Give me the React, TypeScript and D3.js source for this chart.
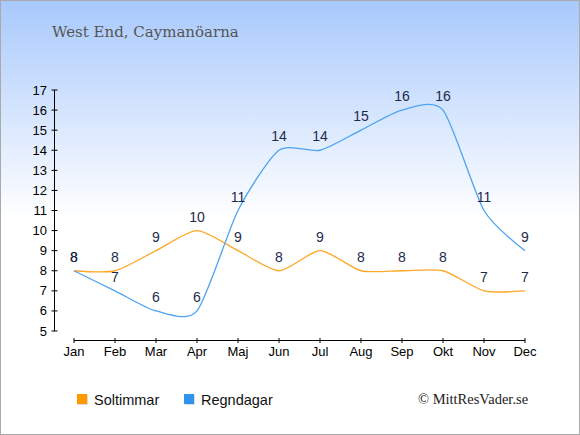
import * as d3 from "d3";
import React from "react";

const months = ["Jan", "Feb", "Mar", "Apr", "Maj", "Jun", "Jul", "Aug", "Sep", "Okt", "Nov", "Dec"];
const sunHours = [8, 8, 9, 10, 9, 8, 9, 8, 8, 8, 7, 7];
const rainDays = [8, 7, 6, 6, 11, 14, 14, 15, 16, 16, 11, 9];
const yTicks = [5, 6, 7, 8, 9, 10, 11, 12, 13, 14, 15, 16, 17];

const width = 580;
const height = 435;
const sunColor = "#ffa726";
const rainColor = "#4da3f0";
const labelColor = "#1c2b4a";

const App: React.FC = () => {
  const x = d3.scalePoint<string>().domain(months).range([74, 525]);
  const y = d3.scaleLinear().domain([5, 17]).range([331, 90]);

  const line = d3
    .line<number>()
    .x((_, i) => x(months[i])!)
    .y((d) => y(d))
    .curve(d3.curveCardinal.tension(0.3));

  const series = [
    { name: "Soltimmar", values: sunHours, color: sunColor, legend: "#ff9900" },
    { name: "Regndagar", values: rainDays, color: rainColor, legend: "#3194ec" },
  ];

  return (
    <div style={{ position: "fixed", left: 0, top: 0 }}>
      <svg width={width} height={height} style={{ display: "block" }}>
        <defs>
          <linearGradient id="bg" x1="0" y1="0" x2="0" y2="1">
            <stop offset="0" stopColor="#a8c9fc" />
            <stop offset="0.5" stopColor="#ffffff" />
            <stop offset="1" stopColor="#ffffff" />
          </linearGradient>
        </defs>
        <rect x={0.5} y={0.5} width={width - 1} height={height - 1} fill="url(#bg)" stroke="#aaaaaa" />

        <text x={52} y={37} fontFamily="'DejaVu Serif', serif" fontSize={15} fill="#555555">
          West End, Caymanöarna
        </text>

        {/* y axis */}
        <line x1={54.5} x2={54.5} y1={y(17)} y2={y(5)} stroke="#000" />
        {yTicks.map((t) => (
          <g key={t}>
            <line x1={51.5} x2={57.5} y1={y(t)} y2={y(t)} stroke="#000" />
            <text
              x={47}
              y={y(t)}
              textAnchor="end"
              dominantBaseline="central"
              fontFamily="Arial, 'Liberation Sans', sans-serif"
              fontSize={13}
              fill="#000"
            >
              {t}
            </text>
          </g>
        ))}

        {/* x axis */}
        <line x1={x("Jan")!} x2={x("Dec")!} y1={340.5} y2={340.5} stroke="#000" />
        {months.map((m) => (
          <g key={m}>
            <line x1={x(m)!} x2={x(m)!} y1={338} y2={343} stroke="#000" />
            <text
              x={x(m)!}
              y={356}
              textAnchor="middle"
              fontFamily="Arial, 'Liberation Sans', sans-serif"
              fontSize={13}
              fill="#000"
            >
              {m}
            </text>
          </g>
        ))}

        {series.map((s) => (
          <g key={s.name}>
            <path d={line(s.values)!} fill="none" stroke={s.color} strokeWidth={1.3} />
            {s.values.map((v, i) => (
              <text
                key={i}
                x={x(months[i])!}
                y={y(v) - 9}
                textAnchor="middle"
                fontFamily="Arial, 'Liberation Sans', sans-serif"
                fontSize={14}
                fill={labelColor}
              >
                {v}
              </text>
            ))}
          </g>
        ))}

        {/* legend */}
        {series.map((s, i) => (
          <g key={s.name} transform={`translate(${77 + i * 107},394)`}>
            <rect x={1} y={1} width={10} height={10} fill="#dddddd" />
            <rect x={0} y={0} width={10} height={10} fill={s.legend} />
            <text
              x={17}
              y={11}
              fontFamily="Arial, 'Liberation Sans', sans-serif"
              fontSize={14.5}
              fill="#111"
            >
              {s.name}
            </text>
          </g>
        ))}

        <text x={418} y={404} fontFamily="'Liberation Serif', serif" fontSize={14.5} fill="#222">
          © MittResVader.se
        </text>
      </svg>
    </div>
  );
};

export default App;
